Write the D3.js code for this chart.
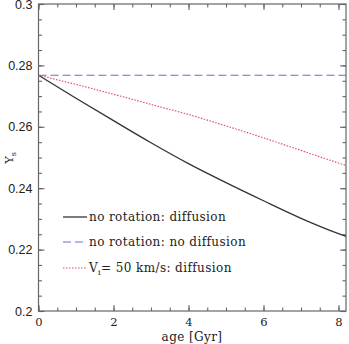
<!DOCTYPE html>
<html>
<head>
<meta charset="utf-8">
<script src="https://cdn.jsdelivr.net/npm/d3@7"></script>
<style>
  body { margin: 0; background: #fff; }
  svg { display: block; }
</style>
</head>
<body>
<svg id="chart" width="349" height="344"></svg>
<script>
// Data
let ages = [0, 1, 2, 3, 4, 5, 6, 7, 8, 8.2]
let ysDiffusion = [0.2768, 0.2693, 0.2620, 0.2548, 0.2480, 0.2418, 0.2359, 0.2302, 0.2252, 0.2243]
let ysNoDiffusion = [0.2768, 0.2768, 0.2768, 0.2768, 0.2768, 0.2768, 0.2768, 0.2768, 0.2768, 0.2768]
let ysRotation = [0.2768, 0.2738, 0.2706, 0.2673, 0.2640, 0.2603, 0.2564, 0.2523, 0.2482, 0.2474]
let xTicks = [0, 2, 4, 6, 8]
let yTicks = [0.2, 0.22, 0.24, 0.26, 0.28, 0.3]
let legendLabels = ["no rotation: diffusion", "no rotation: no diffusion", "V_i= 50 km/s: diffusion"]

let frameColor = "#666"
let serif = "'DejaVu Serif', serif"
let sans = "'Liberation Sans', Arial, sans-serif"

let svg = d3.select("#chart")
let plotL = 38.5, plotR = 346, plotT = 4, plotB = 311

let x = d3.scaleLinear().domain([0, 8.2]).range([plotL, plotR])
let y = d3.scaleLinear().domain([0.2, 0.3]).range([plotB, plotT])

// frame
svg.append("rect")
    .attr("x", plotL).attr("y", plotT)
    .attr("width", plotR - plotL).attr("height", plotB - plotT)
    .attr("fill", "none").attr("stroke", frameColor).attr("stroke-width", 1.2)

// inward ticks on all four sides
function drawTicks(axis, tx, ty, majorVals, minorVals, labels) {
    let g1 = svg.append("g").attr("transform", `translate(${tx},${ty})`)
        .call(axis.tickValues(majorVals).tickSize(-6))
    let g2 = svg.append("g").attr("transform", `translate(${tx},${ty})`)
        .call(axis.tickValues(minorVals).tickSize(-3.5).tickFormat(""))
    ;[g1, g2].forEach(g => {
        g.select(".domain").remove()
        g.selectAll(".tick line").attr("stroke", frameColor).attr("stroke-width", 1.1)
    })
    if (!labels) g1.selectAll("text").remove()
    return g1
}

let xMinor = d3.range(0, 8.21, 0.5)
let yMinor = d3.range(0.2, 0.3001, 0.005)

let bx = drawTicks(d3.axisBottom(x), 0, plotB, xTicks, xMinor, true)
bx.selectAll("text").attr("font-family", serif).attr("font-size", 11.5)
    .attr("fill", "#222").attr("y", 7)
drawTicks(d3.axisTop(x), 0, plotT, xTicks, xMinor, false)
let ly = drawTicks(d3.axisLeft(y).tickFormat(d3.format("")), plotL, 0, yTicks, yMinor, true)
ly.selectAll("text").attr("font-family", sans).attr("font-size", 12.5)
    .attr("fill", "#222").attr("x", -6)
drawTicks(d3.axisRight(y), plotR, 0, yTicks, yMinor, false)

// curves
let series = [
    { vals: ysDiffusion, color: "#333", dash: null, width: 1.3 },
    { vals: ysNoDiffusion, color: "#6b6bd6", dash: "8,4", width: 1.1 },
    { vals: ysRotation, color: "#e0506a", dash: "1.5,1.5", width: 1.2 }
]
let line = d3.line().curve(d3.curveMonotoneX)
series.forEach(s => {
    svg.append("path")
        .attr("d", line(ages.map((a, i) => [x(a), y(s.vals[i])])))
        .attr("fill", "none").attr("stroke", s.color)
        .attr("stroke-width", s.width)
        .attr("stroke-dasharray", s.dash)
})

// legend
let legendY = [217, 242, 268]
series.forEach((s, i) => {
    svg.append("line")
        .attr("x1", 63).attr("x2", 87)
        .attr("y1", legendY[i]).attr("y2", legendY[i])
        .attr("stroke", s.color).attr("stroke-width", s.width)
        .attr("stroke-dasharray", s.dash)
    let t = svg.append("text")
        .attr("x", 89).attr("y", legendY[i] + 4)
        .attr("font-family", serif).attr("font-size", 12)
        .attr("letter-spacing", 0.4)
        .attr("fill", "#222")
    let lbl = legendLabels[i]
    if (lbl.startsWith("V_i")) {
        t.append("tspan").text("V")
        t.append("tspan").attr("font-size", 8).attr("dy", 3).text("i")
        t.append("tspan").attr("dy", -3).text(lbl.slice(3))
    } else {
        t.text(lbl)
    }
})

// axis titles
svg.append("text")
    .attr("x", 192).attr("y", 341)
    .attr("text-anchor", "middle")
    .attr("font-family", serif).attr("font-size", 12)
    .attr("letter-spacing", 0.4)
    .attr("fill", "#222").text("age [Gyr]")

let yl = svg.append("text")
    .attr("transform", "translate(13,158) rotate(-90)")
    .attr("text-anchor", "middle")
    .attr("font-family", serif).attr("font-size", 11.5)
    .attr("fill", "#222")
yl.append("tspan").text("Y")
yl.append("tspan").attr("font-size", 8).attr("dy", 3).text("s")
</script>
</body>
</html>
